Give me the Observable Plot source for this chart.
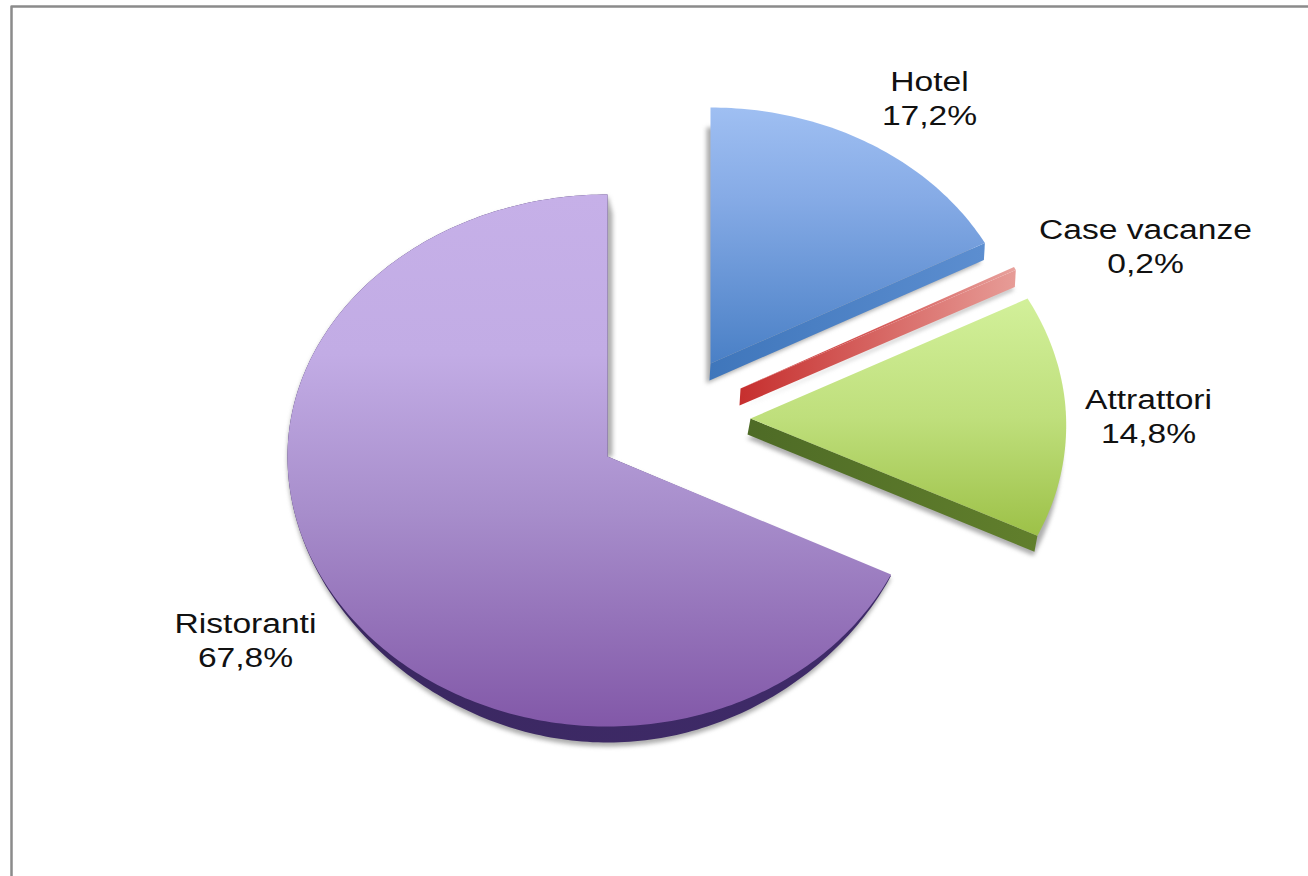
<!DOCTYPE html>
<html>
<head>
<meta charset="utf-8">
<script src="https://cdn.jsdelivr.net/npm/d3@7"></script>
<script src="https://cdn.jsdelivr.net/npm/@observablehq/plot@0.6"></script>
<style>html,body{margin:0;padding:0;background:#fff}</style>
</head>
<body>
<div id="chart"></div>
<script>
// Data, in drawing order (clockwise from twelve o'clock)
const categories = ["Hotel", "Case vacanze", "Attrattori", "Ristoranti"];
const shares = [17.2, 0.2, 14.8, 67.8];

// Styling and layout
const topStops = [
  [[0, "#9fbff2"], [0.35, "#86abe6"], [1, "#4a80c6"]],
  [[0, "#c9302f"], [0.5, "#d65a58"], [1, "#e8a29d"]],
  [[0, "#d2f09a"], [0.5, "#bfdf7c"], [1, "#9dc148"]],
  [[0, "#c6b0e8"], [0.3, "#c2ace5"], [0.6, "#a78dcb"], [1, "#8258a8"]]
];
const sideStops = [
  [[0, "#3f76bb"], [1, "#5c8ed0"]],
  [[0, "#c62f2e"], [1, "#e79c97"]],
  [[0, "#4e6b26"], [1, "#617f2c"]],
  [[0, "#3a2760"], [1, "#3f2b69"]]
];
const topVertical = [true, false, true, true];
const layout = [
  {cx: 710, cy: 363, rx: () => 311, up: 256, down: 256, ex: -1, ey: 17, sx: -4, sy: 20},
  {cx: 740, cy: 388, rx: () => 310, up: 258, down: 258, ex: -1, ey: 17, sx: -2, sy: 20},
  {cx: 750, cy: 418, rx: t => 315.6 - 7.8 * Math.cos(t), up: 261, down: 268, ex: -3, ey: 16, sx: -4, sy: 20},
  {cx: 607, cy: 456, rx: t => 317.5 - 2.5 * Math.sin(t), up: 262, down: 270, ex: 0, ey: 16, sx: 5, sy: 19, rim: true}
];
const labelAt = [[929, 97], [1145, 245], [1148, 415], [245, 639]];
const fontWiden = 1.2;

// Slice geometry from the shares
const arcs = d3.pie().sort(null).value(d => d)(shares);
function outline(i, rim = 0) {
  const {startAngle: a0, endAngle: a1} = arcs[i];
  const L = layout[i];
  const n = Math.max(2, Math.ceil((a1 - a0) * 60));
  const pts = [[L.cx, L.cy]];
  for (let k = 0; k <= n; ++k) {
    const t = a0 + (a1 - a0) * k / n, c = Math.cos(t);
    const sag = c < 0 ? rim * Math.pow(-c, 3) : 0;
    pts.push([L.cx + L.rx(t) * Math.sin(t), L.cy - (c > 0 ? L.up : L.down) * c + sag]);
  }
  return pts;
}
const closed = p => [...p, p[0]];
const shift = (p, dx, dy) => p.map(([x, y]) => [x + dx, y + dy]);

const faces = categories.map((name, i) => ({
  name, i,
  type: "Polygon",
  coordinates: [closed(outline(i))]
}));
const shadows = categories.flatMap((name, i) => {
  const L = layout[i];
  if (!L.rim) return [{type: "Polygon", coordinates: [closed(shift(outline(i), L.sx, L.sy))]}];
  const p = outline(i), apex = p[0], top = p[p.length - 1];
  return [
    {type: "Polygon", coordinates: [closed(shift(outline(i, L.ey + 1), 0, 3))]},
    {type: "Polygon", coordinates: [closed([apex, top, [top[0] + L.sx, top[1] + L.sy], [apex[0] + L.sx, apex[1]]])]}
  ];
});
const sides = categories.map((name, i) => {
  const L = layout[i], p = outline(i);
  if (L.rim) return {name, i, type: "Polygon", coordinates: [closed(outline(i, L.ey))]};
  const apex = p[0], tip = p[p.length - 1];
  return {
    name, i,
    type: "Polygon",
    coordinates: [closed([apex, tip, [tip[0] + L.ex, tip[1] + L.ey], [apex[0] + L.ex, apex[1] + L.ey]])]
  };
});

const labels = categories.map((name, i) => ({
  text: name + "\n" + shares[i].toFixed(1).replace(".", ",") + "%",
  at: labelAt[i]
}));

function gradients() {
  const defs = d3.create("svg:defs");
  const add = (id, stops, vertical) => {
    const g = defs.append("linearGradient").attr("id", id)
      .attr("x1", 0).attr("y1", 0)
      .attr("x2", vertical ? 0 : 1).attr("y2", vertical ? 1 : 0);
    for (const [o, c] of stops) g.append("stop").attr("offset", o).attr("stop-color", c);
  };
  topStops.forEach((s, i) => add("top" + i, s, topVertical[i]));
  sideStops.forEach((s, i) => add("side" + i, s, false));
  return defs.node();
}

const svg = Plot.plot({
  width: 1308,
  height: 876,
  margin: 0,
  style: {background: "#fff"},
  projection: d3.geoIdentity(),
  color: {type: "identity"},
  marks: [
    gradients,
    Plot.geo([{type: "LineString", coordinates: [[11, 876], [11, 6], [1308, 6]]}],
      {stroke: "#8b8b8b", strokeWidth: 2.5, fill: "none"}),
    Plot.geo(shadows, {fill: "#8a8a8a", fillOpacity: 0.7, imageFilter: "blur(2px)"}),
    Plot.geo(sides, {fill: d => `url(#side${d.i})`}),
    Plot.geo(faces, {fill: d => `url(#top${d.i})`}),
    Plot.text(labels, {
      x: d => d.at[0],
      y: d => d.at[1],
      text: "text",
      fontFamily: "Liberation Sans",
      fontSize: 28,
      lineHeight: 1.2,
      fill: "#111"
    })
  ]
});
d3.select(svg).selectAll('g[aria-label="text"] text').attr("transform", function () {
  return this.getAttribute("transform") + ` scale(${fontWiden},1)`;
});
document.getElementById("chart").append(svg);
</script>
</body>
</html>
